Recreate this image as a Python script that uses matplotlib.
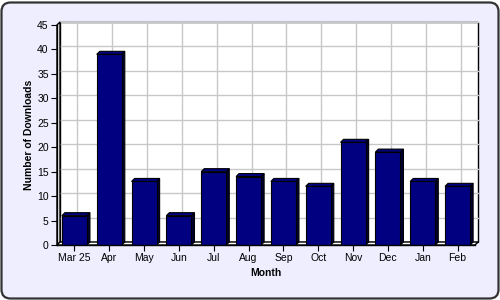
import matplotlib.pyplot as plt
from matplotlib.patches import FancyBboxPatch, Polygon, Rectangle
from matplotlib.transforms import ScaledTranslation

# Data
months = ['Mar 25', 'Apr', 'May', 'Jun', 'Jul', 'Aug', 'Sep', 'Oct',
          'Nov', 'Dec', 'Jan', 'Feb']
downloads = [6, 39, 13, 6, 15, 14, 13, 12, 21, 19, 13, 12]

W, H = 500, 300
fig = plt.figure(figsize=(5, 3), dpi=100)
fig.patch.set_facecolor('white')

# rounded lavender frame (inch units so the corners stay round)
frame = FancyBboxPatch((0.015, 0.015), 4.97, 2.96,
                       boxstyle='round,pad=0,rounding_size=0.09',
                       transform=fig.dpi_scale_trans, facecolor='#EEEEFF',
                       edgecolor='#333333', linewidth=1.6, zorder=-5)
fig.patches.append(frame)

# front plane of the plot, in pixels
L, R, T, B = 57, 475, 25, 245
ax = fig.add_axes([L / W, (H - B) / H, (R - L) / W, (B - T) / H])
ax.set_facecolor('none')
ax.set_xlim(-0.5, len(months) - 0.5)
ax.set_ylim(0, 45)

depth = 3  # pixel depth of the 3D effect
dxa = depth / (R - L)
dya = depth / (B - T)
shift = ScaledTranslation(depth / 100, depth / 100, fig.dpi_scale_trans)

# back wall, left wall and floor
ax.add_patch(Rectangle((dxa, dya), 1, 1, transform=ax.transAxes,
                       facecolor='white', edgecolor='black', lw=1,
                       clip_on=False, zorder=0))
ax.add_patch(Polygon([(0, 0), (0, 1), (dxa, 1 + dya), (dxa, dya)],
                     transform=ax.transAxes, facecolor='white',
                     edgecolor='black', lw=1, clip_on=False, zorder=1))
ax.add_patch(Polygon([(0, 0), (1, 0), (1 + dxa, dya), (dxa, dya)],
                     transform=ax.transAxes, facecolor='white',
                     edgecolor='black', lw=1, clip_on=False, zorder=1))

# grid on the back wall
for yv in range(5, 46, 5):
    ax.plot([-0.5, len(months) - 0.5], [yv, yv], color='#C8C8C8', lw=1,
            transform=ax.transData + shift, zorder=0.5, clip_on=False)
for xv in range(len(months)):
    ax.plot([xv, xv], [0, 45], color='#C8C8C8', lw=1,
            transform=ax.transData + shift, zorder=0.5, clip_on=False)

# 3D bars
bw = 0.72
px_x = (R - L) / len(months)
px_y = (B - T) / 45
ddx = depth / px_x
ddy = depth / px_y
for i, v in enumerate(downloads):
    x0, x1 = i - bw / 2, i + bw / 2
    top = Polygon([(x0, v), (x1, v), (x1 + ddx, v + ddy), (x0 + ddx, v + ddy)],
                  facecolor='#000080', edgecolor='black', lw=0.8, zorder=3,
                  clip_on=False)
    side = Polygon([(x1, 0), (x1, v), (x1 + ddx, v + ddy), (x1 + ddx, ddy)],
                   facecolor='#000033', edgecolor='black', lw=0.8, zorder=3,
                   clip_on=False)
    ax.add_patch(side)
    ax.add_patch(top)
ax.bar(range(len(months)), downloads, width=bw, color='#000080',
       edgecolor='black', linewidth=0.8, zorder=4)

for s in ['top', 'right']:
    ax.spines[s].set_visible(False)
for s in ['left', 'bottom']:
    ax.spines[s].set_color('black')
    ax.spines[s].set_linewidth(1)
    ax.spines[s].set_zorder(5)

ax.set_xticks(range(len(months)))
ax.set_xticklabels(months)
ax.set_yticks(range(0, 46, 5))
ax.tick_params(axis='both', direction='out', length=4, width=0.8,
               labelsize=7.5, pad=2, colors='black')
for lab in ax.get_xticklabels() + ax.get_yticklabels():
    lab.set_family('Liberation Sans')

ax.set_xlabel('Month', fontsize=7.5, fontweight='bold',
              family='Liberation Sans', labelpad=3)
ax.set_ylabel('Number of Downloads', fontsize=7.5, fontweight='bold',
              family='Liberation Sans', labelpad=2)

fig.savefig('out.png', dpi=100)
